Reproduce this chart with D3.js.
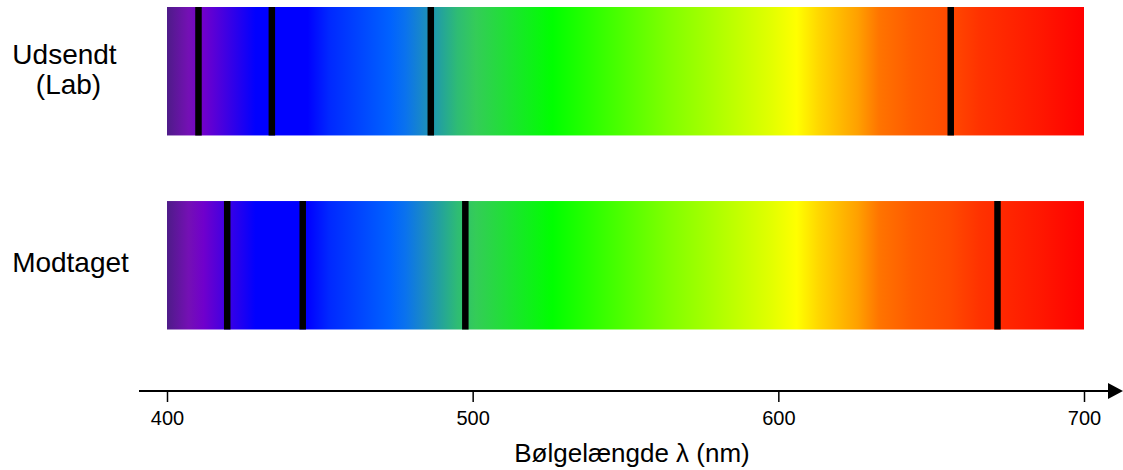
<!DOCTYPE html>
<html>
<head>
<meta charset="utf-8">
<script src="https://cdn.jsdelivr.net/npm/d3@7"></script>
<style>
  body { margin: 0; background: #fff; }
  svg { display: block; font-family: "Liberation Sans", Arial, sans-serif; }
</style>
</head>
<body>
<svg id="chart"></svg>
<script>
var width = 1123, height = 470;

// data
var categories = ['Udsendt', 'Modtaget'];
var categoryLabels = [['Udsendt', '(Lab)'], ['Modtaget']];
var emittedLines = [410.3, 434.3, 486.3, 656.4];
var receivedLines = [419.7, 444.4, 497.6, 671.7];
var tickValues = [400, 500, 600, 700];
var spectrumNm = [400, 407, 412, 429, 446, 453, 473, 478, 484, 489, 495, 501, 526, 545, 564, 597, 606, 613, 626, 633, 644, 656, 666, 685, 700];
var spectrumColor = ['#4e1c88', '#7410b4', '#7000cc', '#0000ff', '#0000ff', '#0028ff', '#0062ff', '#0a72ee', '#1a8ac4', '#22a0a0', '#2ebc74', '#34cc58', '#00ff00', '#40ff00', '#80ff00', '#e0ff00', '#ffff00', '#ffd800', '#ffa000', '#ff7400', '#ff5a00', '#ff4a00', '#ff3200', '#ff1800', '#ff0000'];

var svg = d3.select('#chart').attr('width', width).attr('height', height);

var x = d3.scaleLinear().domain([400, 700]).range([167, 1084]);
var y = d3.scaleBand().domain(categories).range([7, 329.5]).paddingInner(0.338).paddingOuter(0);

// spectrum gradient
var grad = svg.append('defs').append('linearGradient')
	.attr('id', 'spectrum')
	.attr('gradientUnits', 'userSpaceOnUse')
	.attr('x1', x(400)).attr('x2', x(700))
	.attr('y1', 0).attr('y2', 0);
grad.selectAll('stop')
	.data(spectrumNm)
	.enter().append('stop')
	.attr('offset', function(d) { return (x(d) - x(400)) / (x(700) - x(400)); })
	.attr('stop-color', function(d, i) { return spectrumColor[i]; });

var lineSets = [emittedLines, receivedLines];

for (var i = 0; i < categories.length; i++) {
	var cat = categories[i];
	svg.append('rect')
		.attr('x', x(400))
		.attr('y', y(cat))
		.attr('width', x(700) - x(400))
		.attr('height', y.bandwidth())
		.attr('fill', 'url(#spectrum)');

	svg.selectAll('.line-' + i)
		.data(lineSets[i])
		.enter().append('line')
		.attr('class', 'line-' + i)
		.attr('x1', function(d) { return x(d); })
		.attr('x2', function(d) { return x(d); })
		.attr('y1', y(cat))
		.attr('y2', y(cat) + y.bandwidth())
		.attr('stroke', '#000')
		.attr('stroke-width', 6.5);
}

// row labels
var labelY = [64, 272];
var labelX = [64.5, 70.5];
categoryLabels.forEach(function(lines, i) {
	var t = svg.append('text')
		.attr('x', labelX[i])
		.attr('y', labelY[i])
		.attr('text-anchor', 'middle')
		.attr('font-size', 28)
		.attr('fill', '#000');
	lines.forEach(function(s, j) {
		t.append('tspan')
			.attr('x', labelX[i] + (j > 0 ? 4 : 0))
			.attr('dy', j === 0 ? 0 : 30)
			.text(s);
	});
});

// axis
var axisY = 391;
svg.append('line')
	.attr('x1', 139).attr('x2', 1110)
	.attr('y1', axisY).attr('y2', axisY)
	.attr('stroke', '#000')
	.attr('stroke-width', 2);
svg.append('path')
	.attr('d', 'M1108,' + (axisY - 8) + 'L1123,' + axisY + 'L1108,' + (axisY + 8) + 'Z')
	.attr('fill', '#000');

var axis = svg.append('g')
	.attr('transform', 'translate(0,' + axisY + ')')
	.call(d3.axisBottom(x).tickValues(tickValues).tickSize(11).tickPadding(9));
axis.select('.domain').remove();
axis.selectAll('.tick line').attr('stroke', '#000').attr('stroke-width', 1.5);
axis.selectAll('.tick text')
	.attr('font-size', 20)
	.attr('font-family', '"Liberation Sans", Arial, sans-serif')
	.attr('fill', '#000');

svg.append('text')
	.attr('x', 632)
	.attr('y', 462)
	.attr('text-anchor', 'middle')
	.attr('font-size', 26)
	.attr('fill', '#000')
	.text('Bølgelængde λ (nm)');
</script>
</body>
</html>
